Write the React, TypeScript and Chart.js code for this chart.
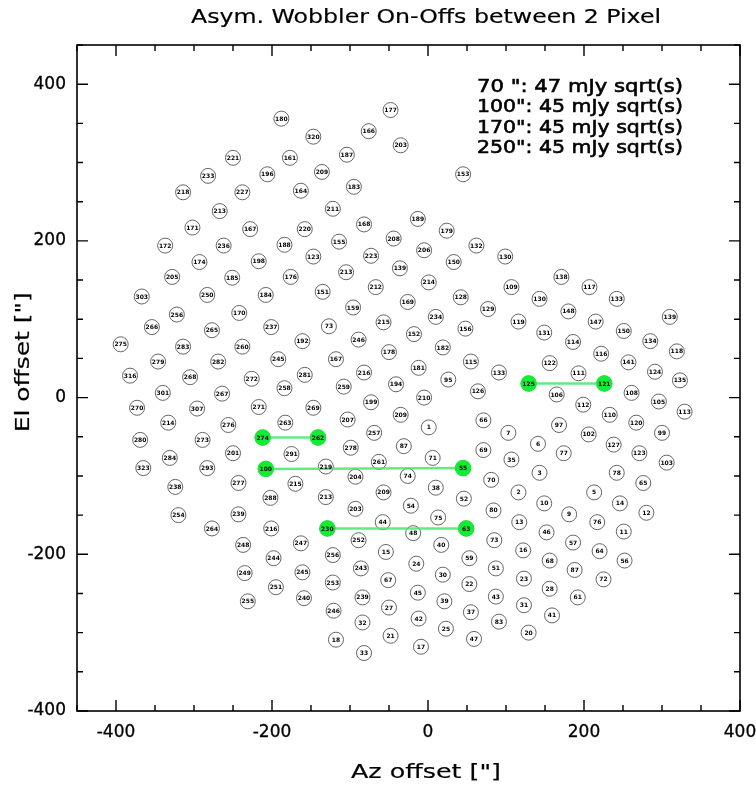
import { useEffect, useRef } from "react";
import { Chart, registerables } from "chart.js";
Chart.register(...registerables);

// Pixel numbers and their (Az, El) offsets in arcsec
const pixelIds = [
  180, 221, 161, 233, 196, 218, 227, 164, 213, 171, 167, 220, 172, 236, 188, 174, 198, 205, 185, 176,
  177, 320, 166, 203, 187, 209, 183, 153, 211, 189, 168, 179, 208, 132, 155, 206, 223, 123, 150, 139,
  130, 213, 214, 138, 117, 109, 303, 250, 184, 256, 170, 266, 265, 237, 275, 283, 260, 192, 279, 282,
  245, 316, 268, 272, 281, 301, 267, 258, 270, 307, 271, 214, 276, 263, 280, 273, 274, 291, 284, 201,
  323, 293, 100, 151, 212, 128, 159, 169, 234, 129, 73, 215, 152, 156, 246, 182, 178, 115, 167, 133,
  216, 181, 95, 194, 259, 126, 210, 199, 269, 209, 66, 207, 1, 7, 262, 257, 87, 278, 71, 69,
  261, 219, 55, 74, 204, 70, 35, 130, 133, 148, 139, 119, 147, 131, 150, 134, 114, 118, 116, 122,
  141, 111, 124, 135, 125, 121, 106, 108, 105, 113, 112, 110, 97, 120, 99, 102, 6, 127, 77, 123,
  103, 3, 78, 277, 215, 238, 288, 254, 239, 264, 216, 248, 247, 244, 249, 245, 251, 240, 255, 213,
  209, 38, 52, 80, 203, 54, 75, 230, 63, 44, 252, 48, 40, 73, 15, 256, 59, 24, 243, 51,
  30, 67, 253, 22, 45, 239, 43, 39, 27, 246, 37, 83, 42, 32, 25, 21, 18, 47, 17, 33,
  65, 2, 5, 10, 14, 12, 9, 13, 76, 46, 11, 57, 16, 64, 56, 68, 87, 23, 72, 28,
  61, 31, 41, 20,
];
const azOffsets = [
  -188, -250, -177, -282, -206, -314, -238, -163, -267, -302, -228, -158, -337, -262, -184, -293, -217, -328, -251, -176,
  -48, -147, -76, -35, -104, -136, -95, 45, -122, -13, -82, 24, -44, 62, -114, -5, -73, -147, 33, -36,
  99, -105, 1, 171, 207, 107, -367, -283, -208, -322, -242, -354, -277, -201, -394, -314, -238, -161, -346, -269,
  -192, -382, -305, -226, -158, -340, -264, -184, -373, -296, -217, -333, -256, -183, -369, -289, -212, -175, -331, -250,
  -365, -283, -208, -135, -67, 42, -96, -26, 10, 77, -127, -57, -18, 48, -89, 19, -50, 55, -118, 91,
  -82, -12, 26, -41, -108, 64, -5, -73, -147, -35, 71, -103, 1, 103, -141, -69, -31, -99, 6, 71,
  -63, -131, 45, -26, -93, 81, 107, 143, 242, 180, 310, 116, 215, 149, 251, 285, 186, 319, 222, 156,
  257, 193, 291, 323, 129, 226, 165, 261, 296, 329, 199, 233, 168, 267, 300, 206, 141, 238, 174, 271,
  306, 143, 242, -243, -170, -324, -202, -320, -243, -277, -201, -237, -163, -198, -235, -161, -195, -159, -231, -131,
  -57, 10, 46, 84, -93, -22, 13, -129, 49, -58, -89, -19, 17, 85, -54, -122, 53, -15, -86, 87,
  19, -51, -122, 53, -13, -84, 87, 21, -50, -121, 55, 91, -12, -84, 23, -48, -118, 59, -9, -82,
  276, 116, 213, 149, 246, 280, 181, 117, 217, 152, 251, 186, 122, 220, 252, 156, 188, 123, 225, 156,
  192, 123, 159, 129,
];
const elOffsets = [
  356, 306, 306, 283, 285, 262, 262, 264, 238, 217, 215, 215, 194, 194, 195, 173, 174, 154, 153, 154,
  367, 333, 340, 322, 310, 288, 269, 285, 241, 228, 221, 213, 203, 194, 199, 188, 181, 180, 173, 165,
  180, 160, 147, 154, 141, 141, 129, 131, 131, 106, 108, 90, 86, 90, 68, 65, 65, 72, 46, 46,
  49, 28, 26, 24, 29, 6, 5, 12, -13, -14, -12, -32, -35, -32, -54, -54, -51, -72, -77, -71,
  -90, -90, -91, 135, 141, 128, 115, 122, 103, 113, 91, 96, 81, 88, 74, 64, 58, 46, 49, 32,
  32, 38, 23, 17, 14, 8, 0, -6, -13, -22, -29, -28, -38, -45, -51, -45, -62, -64, -77, -67,
  -82, -88, -90, -100, -101, -105, -79, 126, 126, 110, 103, 97, 97, 83, 85, 72, 71, 59, 56, 44,
  45, 31, 33, 22, 18, 18, 4, 6, -5, -18, -9, -22, -35, -32, -45, -47, -59, -60, -71, -71,
  -83, -96, -96, -109, -110, -114, -128, -150, -149, -167, -167, -188, -186, -205, -224, -223, -242, -256, -260, -127,
  -121, -115, -129, -144, -142, -138, -153, -167, -167, -159, -182, -173, -188, -182, -197, -201, -205, -212, -218, -218,
  -226, -233, -236, -238, -249, -255, -254, -260, -268, -272, -274, -286, -282, -287, -295, -304, -309, -308, -318, -326,
  -109, -121, -121, -135, -135, -147, -149, -159, -159, -172, -171, -185, -195, -196, -208, -208, -220, -231, -232, -244,
  -255, -265, -278, -300,
];

// Wobbler on-off pixel pairs (green)
const pairFrom = [125, 274, 100, 230];
const pairTo = [121, 262, 55, 63];

const xTickLabels = [-400, -200, 0, 200, 400];
const yTickLabels = [400, 200, 0, -200, -400];
const legendLines = [
  '70 ": 47 mJy sqrt(s)',
  '100": 45 mJy sqrt(s)',
  '170": 45 mJy sqrt(s)',
  '250": 45 mJy sqrt(s)',
];
const titleText = "Asym. Wobbler On-Offs between 2 Pixel";
const xTitle = 'Az offset ["]';
const yTitle = 'El offset ["]';

const FONT = '"DejaVu Sans", "Liberation Sans", sans-serif';

function fitText(ctx: CanvasRenderingContext2D, text: string, x: number, y: number, w: number, size: number, align: "left" | "center" | "right" = "center", stroke = 0) {
  ctx.save();
  ctx.font = `${size}px ${FONT}`;
  const m = ctx.measureText(text).width;
  ctx.translate(x, y);
  ctx.scale(w / m, 1);
  ctx.textAlign = align;
  ctx.textBaseline = "middle";
  ctx.fillStyle = "#000";
  ctx.fillText(text, 0, 0);
  if (stroke > 0) {
    ctx.lineWidth = stroke;
    ctx.strokeStyle = "#000";
    ctx.strokeText(text, 0, 0);
  }
  ctx.restore();
}

const decor = {
  id: "decor",
  afterDatasetsDraw(chart: any) {
    const { ctx, scales } = chart;
    const x = scales.x, y = scales.y;
    ctx.save();
    ctx.fillStyle = "#000";
    ctx.font = `bold 6px ${FONT}`;
    ctx.textAlign = "center";
    ctx.textBaseline = "middle";
    pixelIds.forEach((id, i) => {
      ctx.fillText(String(id), x.getPixelForValue(azOffsets[i]), y.getPixelForValue(elOffsets[i]) + 0.5);
    });
    ctx.restore();
  },
  afterDraw(chart: any) {
    const { ctx, chartArea: a, scales } = chart;
    const x = scales.x, y = scales.y;
    ctx.save();
    ctx.strokeStyle = "#000";
    ctx.lineWidth = 1.6;
    ctx.strokeRect(a.left, a.top, a.right - a.left, a.bottom - a.top);
    ctx.lineWidth = 1.4;
    ctx.beginPath();
    for (let v = x.min; v <= x.max; v += 50) {
      const px = x.getPixelForValue(v);
      const len = v % 200 === 0 ? 11 : 6;
      ctx.moveTo(px, a.bottom); ctx.lineTo(px, a.bottom - len);
      ctx.moveTo(px, a.top); ctx.lineTo(px, a.top + len);
    }
    for (let v = y.min; v <= y.max; v += 50) {
      const py = y.getPixelForValue(v);
      const len = v % 200 === 0 ? 11 : 6;
      ctx.moveTo(a.left, py); ctx.lineTo(a.left + len, py);
      ctx.moveTo(a.right, py); ctx.lineTo(a.right - len, py);
    }
    ctx.stroke();
    ctx.restore();

    ctx.save();
    ctx.fillStyle = "#000";
    ctx.strokeStyle = "#000";
    ctx.lineWidth = 0.3;
    ctx.font = `17px ${FONT}`;
    ctx.textBaseline = "middle";
    ctx.textAlign = "center";
    xTickLabels.forEach((v) => {
      ctx.fillText(String(v), x.getPixelForValue(v), a.bottom + 22);
      ctx.strokeText(String(v), x.getPixelForValue(v), a.bottom + 22);
    });
    ctx.textAlign = "right";
    yTickLabels.forEach((v) => {
      ctx.fillText(String(v), a.left - 11, y.getPixelForValue(v));
      ctx.strokeText(String(v), a.left - 11, y.getPixelForValue(v));
    });
    ctx.restore();

    const cx = x.getPixelForValue(0) - 2;
    fitText(ctx, titleText, cx, a.top - 27, 470, 20, "center", 0.2);
    fitText(ctx, xTitle, cx, a.bottom + 62, 150, 20, "center", 0.2);
    ctx.save();
    ctx.translate(a.left - 53, y.getPixelForValue(45));
    ctx.rotate(-Math.PI / 2);
    fitText(ctx, yTitle, 0, 0, 140, 20, "center", 0.2);
    ctx.restore();

    legendLines.forEach((t, i) => {
      fitText(ctx, t, a.left + 400, a.top + 42 + i * 20.5, 206, 18.5, "left", 0.6);
    });
  },
};

export default function App() {
  const ref = useRef<HTMLCanvasElement>(null);
  useEffect(() => {
    document.body.style.margin = "0";
    const canvas = ref.current!;
    const idx = (id: number) => pixelIds.indexOf(id);
    const pairSets = pairFrom.map((f, k) => {
      const i = idx(f), j = idx(pairTo[k]);
      return {
        type: "line" as const,
        label: `${f}-${pairTo[k]}`,
        data: [
          { x: azOffsets[i], y: elOffsets[i] },
          { x: azOffsets[j], y: elOffsets[j] },
        ],
        showLine: true,
        borderColor: "rgba(70,232,110,0.85)",
        borderWidth: 2.5,
        pointRadius: 8.2,
        pointBackgroundColor: "#12ec32",
        pointBorderColor: "#12ec32",
        pointBorderWidth: 0,
        order: 0,
      };
    });
    const chart = new Chart(canvas, {
      type: "scatter",
      data: {
        datasets: [
          ...pairSets,
          {
            label: "pixels",
            data: pixelIds.map((_, i) => ({ x: azOffsets[i], y: elOffsets[i] })),
            pointRadius: 7.5,
            pointBackgroundColor: "#ffffff",
            pointBorderColor: "#555555",
            pointBorderWidth: 0.9,
            order: 1,
          },
        ],
      },
      options: {
        responsive: false,
        devicePixelRatio: 1,
        animation: false,
        layout: { padding: { top: 45, right: 16, left: 0, bottom: 0 } },
        plugins: { legend: { display: false }, tooltip: { enabled: false }, title: { display: false } },
        scales: {
          x: {
            type: "linear",
            min: -450,
            max: 400,
            grid: { display: false },
            border: { display: false },
            ticks: { display: false },
            afterFit: (s: any) => { s.height = 77; },
          },
          y: {
            type: "linear",
            min: -400,
            max: 450,
            grid: { display: false },
            border: { display: false },
            ticks: { display: false },
            afterFit: (s: any) => { s.width = 77; },
          },
        },
      },
      plugins: [decor],
    });
    return () => chart.destroy();
  }, []);
  return <canvas ref={ref} width={756} height={788} style={{ display: "block" }} />;
}
